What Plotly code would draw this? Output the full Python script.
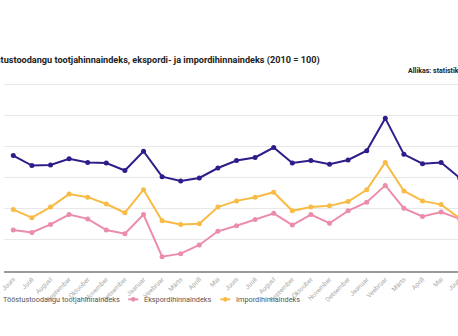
import plotly.graph_objects as go

months = ["Juuni", "Juuli", "August", "September", "Oktoober", "November", "Detsember",
          "Jaanuar", "Veebruar", "Märts", "Aprill", "Mai",
          "Juuni", "Juuli", "August", "September", "Oktoober", "November", "Detsember",
          "Jaanuar", "Veebruar", "Märts", "Aprill", "Mai", "Juuni"]
x_idx = list(range(len(months)))

tootja = [108.6, 107.0, 107.1, 108.1, 107.5, 107.4, 106.2, 109.3, 105.2, 104.5, 105.0, 106.6,
          107.8, 108.3, 109.9, 107.4, 107.8, 107.2, 107.9, 109.4, 114.6, 108.8, 107.3, 107.5, 105.0]
eksport = [96.6, 96.2, 97.5, 99.1, 98.4, 96.6, 96.0, 99.1, 92.3, 92.8, 94.2, 96.4,
           97.3, 98.3, 99.3, 97.4, 99.1, 97.7, 99.7, 101.1, 103.8, 100.1, 98.8, 99.5, 98.4]
import_ = [99.9, 98.6, 100.3, 102.4, 101.9, 100.8, 99.4, 103.1, 98.1, 97.5, 97.6, 100.3,
           101.3, 101.9, 102.7, 99.7, 100.3, 100.5, 101.2, 103.1, 107.5, 102.9, 101.3, 100.7, 98.5]

names = ["Tööstustoodangu tootjahinnaindeks", "Ekspordihinnaindeks", "Impordihinnaindeks"]
colors = ["#2f1c8a", "#ec8cab", "#f8bb45"]
title_text = "Tööstustoodangu tootjahinnaindeks, ekspordi- ja impordihinnaindeks (2010 = 100)"
source_text = "Allikas: statistikaamet"

# The reference is a crop of a wider chart: the figure is drawn wider and shifted left
VIEW_W = 458
SL, SR = 60, 40
W, H = VIEW_W + SL + SR, 336
ML = 3.7 + SL
MR = W - (468.7 + SL)
MT, MB = 83, 65.3
PW = W - ML - MR
PH = H - MT - MB

def px(view_x):
    """window x pixel -> paper x"""
    return (view_x + SL - ML) / PW

def py(view_y):
    """window y pixel -> paper y"""
    return (H - MB - view_y) / PH

fig = go.Figure()
for vals, name, col in zip([tootja, eksport, import_], names, colors):
    fig.add_trace(go.Scatter(
        x=x_idx, y=vals, name=name, mode="lines+markers",
        line=dict(color=col, width=2), marker=dict(color=col, size=5),
        showlegend=False,
    ))

# manual legend (short symbols as in the reference)
leg_text_x = [1, 142, 234]
leg_y = 299
shapes, annotations = [], []
for name, col, tx in zip(names, colors, leg_text_x):
    x0, x1 = tx - 14, tx - 4
    shapes.append(dict(type="line", xref="paper", yref="paper",
                       x0=px(x0), x1=px(x1), y0=py(leg_y), y1=py(leg_y),
                       line=dict(color=col, width=2)))
    cxm = (x0 + x1) / 2
    shapes.append(dict(type="circle", xref="paper", yref="paper",
                       x0=px(cxm - 2.3), x1=px(cxm + 2.3), y0=py(leg_y - 2.3), y1=py(leg_y + 2.3),
                       fillcolor=col, line=dict(color=col, width=0)))
    annotations.append(dict(text=name, xref="paper", yref="paper", x=px(tx), y=py(leg_y),
                            xanchor="left", yanchor="middle", showarrow=False,
                            font=dict(family="Roboto", size=7.3, color="#555")))

annotations.append(dict(text="<b>" + source_text + "</b>", xref="paper", yref="paper",
                        x=px(406), y=py(71), xanchor="left", yanchor="middle", showarrow=False,
                        font=dict(family="Roboto", size=7, color="#222")))

fig.update_layout(
    width=W, height=H,
    margin=dict(l=ML, r=MR, t=MT, b=MB, autoexpand=False),
    paper_bgcolor="white", plot_bgcolor="white",
    showlegend=False,
    title=dict(text="<b>" + title_text + "</b>", xref="container", yref="container",
               x=(-19.3 + SL) / W, y=1 - 60 / H, xanchor="left", yanchor="middle",
               font=dict(family="Roboto", size=9.15, color="#222")),
    xaxis=dict(
        range=[-0.5, 24.5], tickmode="array", tickvals=x_idx, ticktext=months,
        tickangle=-45, tickfont=dict(family="Roboto", size=6.5, color="#aaa"),
        showgrid=False, showline=True, linecolor="#9a9a9a", linewidth=2,
        ticks="", zeroline=False,
    ),
    yaxis=dict(
        range=[90, 120.3], tickvals=[90, 95, 100, 105, 110, 115, 120],
        showticklabels=False, showgrid=True, gridcolor="#e8e8e8", gridwidth=1,
        zeroline=False, showline=False,
    ),
    shapes=shapes,
    annotations=annotations,
)

post = (
    "var d=document.getElementById('{plot_id}');"
    "d.style.marginLeft='-%dpx';"
    "document.documentElement.style.overflow='hidden';"
    "document.body.style.overflow='hidden';"
    "document.body.style.margin='0';" % SL
)
fig.write_html("out.html", post_script=post)
